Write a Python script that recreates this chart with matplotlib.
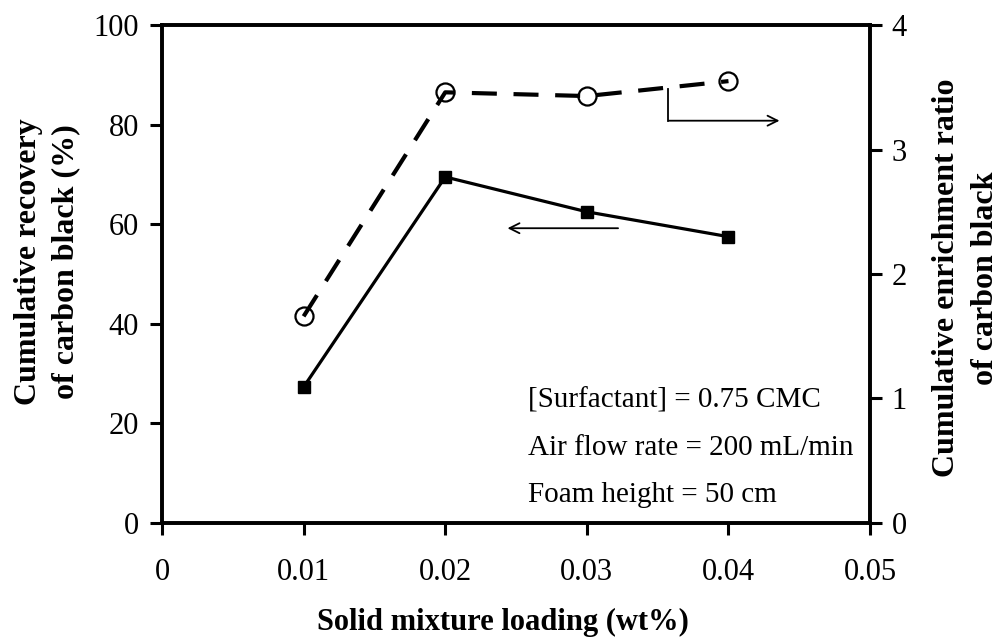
import matplotlib
matplotlib.use("Agg")
import matplotlib.pyplot as plt

plt.rcParams['font.family'] = ['Liberation Serif', 'DejaVu Serif']

# data
loading = [0.01, 0.02, 0.03, 0.04]
recovery = [27.3, 69.5, 62.5, 57.5]          # left axis, %
enrichment = [1.66, 3.46, 3.43, 3.55]        # right axis, ratio
x_ticks = [0, 0.01, 0.02, 0.03, 0.04, 0.05]
x_ticklabels = ["0", "0.01", "0.02", "0.03", "0.04", "0.05"]
left_ticks = [0, 20, 40, 60, 80, 100]
right_ticks = [0, 1, 2, 3, 4]
notes = ["[Surfactant] = 0.75 CMC", "Air flow rate = 200 mL/min", "Foam height = 50 cm"]

fig = plt.figure(figsize=(10.03, 6.44), dpi=100)
ax = fig.add_axes([0.1615, 0.188, 0.706, 0.773])
ax2 = ax.twinx()

ax.plot(loading, recovery, color='black', lw=2.3, marker='s', ms=8.5,
        mfc='black', mec='black', zorder=3)
ax2.plot(loading, enrichment, color='black', lw=3.0, ls=(0, (6, 4)),
         marker='o', ms=13, mfc='none', mec='black', mew=1.6, zorder=3)

ax.set_xlim(0, 0.05)
ax.set_ylim(0, 100)
ax2.set_ylim(0, 4)
ax.set_xticks(x_ticks)
ax.set_xticklabels(x_ticklabels)
ax.set_yticks(left_ticks)
ax2.set_yticks(right_ticks)

for a in (ax, ax2):
    for s in a.spines.values():
        s.set_linewidth(2.6)
    a.tick_params(direction='out', length=8.5, width=2.2, labelsize=22)
ax.tick_params(axis='x', pad=17)
ax.tick_params(axis='y', pad=8)
ax2.tick_params(axis='y', pad=7)

# direction arrows
ax.annotate("", xy=(0.0242, 59.2), xytext=(0.0324, 59.2),
            arrowprops=dict(arrowstyle='->', color='black', lw=1.3,
                            mutation_scale=18))
ax.plot([0.0357, 0.0357], [87.2, 80.8], color='black', lw=1.3)
ax.annotate("", xy=(0.0438, 80.8), xytext=(0.0356, 80.8),
            arrowprops=dict(arrowstyle='->', color='black', lw=1.3,
                            mutation_scale=18))

# condition notes
for i, t in enumerate(notes):
    ax.text(0.517, 0.231 - i * 0.094, t, transform=ax.transAxes,
            fontsize=21, va='baseline', ha='left')

fig.text(0.047, 0.593, "Cumulative recovery\nof carbon black (%)",
         rotation=90, ha='center', va='center', fontsize=23,
         fontweight='bold', linespacing=1.35)
fig.text(0.963, 0.568, "Cumulative enrichment ratio\nof carbon black",
         rotation=90, ha='center', va='center', fontsize=23,
         fontweight='bold', linespacing=1.45)
fig.text(0.5015, 0.034, "Solid mixture loading (wt%)", ha='center',
         va='center', fontsize=22, fontweight='bold')

fig.savefig("out.png", dpi=100)
